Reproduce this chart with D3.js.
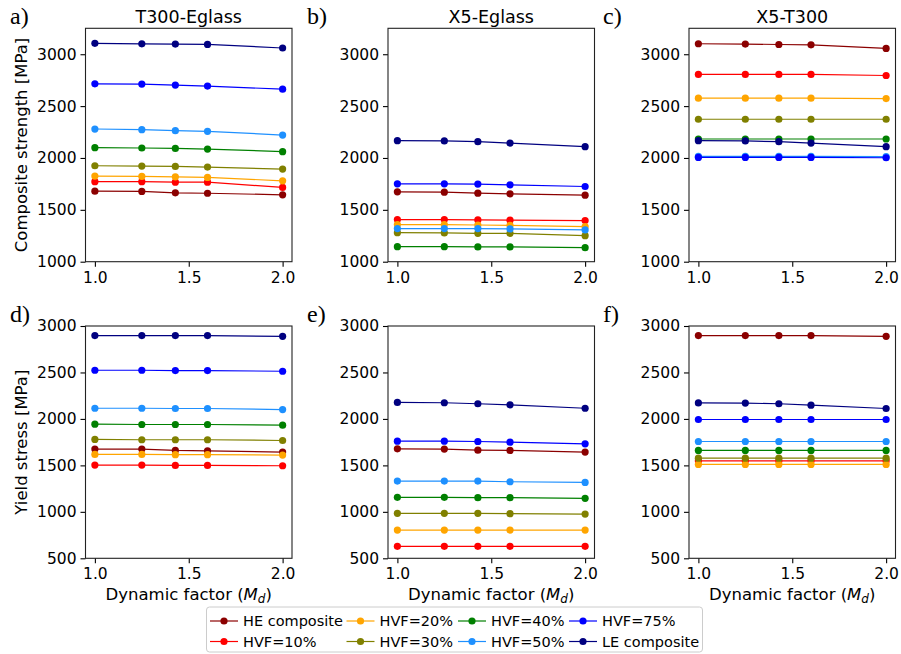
<!DOCTYPE html>
<html>
<head>
<meta charset="utf-8">
<script src="https://cdn.jsdelivr.net/npm/d3@7"></script>
<style>
  body { margin: 0; background: #fff; }
  text { font-family: "DejaVu Sans", sans-serif; }
</style>
</head>
<body>
<script>
// dynamic factor values (x)
const md = [1.0, 1.25, 1.4286, 1.6, 2.0];
const xTicks = [1.0, 1.5, 2.0];

const seriesNames = ["HE composite", "HVF=10%", "HVF=20%", "HVF=30%", "HVF=40%", "HVF=50%", "HVF=75%", "LE composite"];
const seriesColors = ["#8b0000", "#ff0000", "#ffa500", "#808000", "#008000", "#1e90ff", "#0000ff", "#000080"];

// composite strength [MPa], one row per series (same order as seriesNames)
const strengthT300Eglass = [
  [1680, 1677, 1664, 1660, 1645],
  [1771, 1771, 1767, 1767, 1716],
  [1825, 1822, 1818, 1812, 1780],
  [1925, 1922, 1918, 1912, 1893],
  [2099, 2096, 2092, 2086, 2061],
  [2279, 2273, 2263, 2257, 2221],
  [2715, 2712, 2703, 2693, 2663],
  [3105, 3100, 3098, 3095, 3060]
];
const strengthX5Eglass = [
  [1674, 1670, 1661, 1654, 1641],
  [1406, 1406, 1403, 1400, 1396],
  [1358, 1358, 1354, 1351, 1338],
  [1280, 1277, 1274, 1274, 1251],
  [1145, 1145, 1142, 1142, 1135],
  [1319, 1319, 1319, 1316, 1306],
  [1751, 1751, 1748, 1741, 1725],
  [2167, 2164, 2157, 2144, 2109]
];
const strengthX5T300 = [
  [3101, 3098, 3094, 3091, 3056],
  [2805, 2805, 2805, 2805, 2795],
  [2576, 2576, 2576, 2576, 2573],
  [2373, 2373, 2373, 2373, 2373],
  [2183, 2183, 2183, 2183, 2183],
  [2015, 2015, 2015, 2015, 2012],
  [2005, 2005, 2005, 2005, 2002],
  [2167, 2164, 2157, 2144, 2109]
];
// yield stress [MPa]
const yieldT300Eglass = [
  [1675, 1675, 1661, 1657, 1643],
  [1503, 1503, 1500, 1500, 1496],
  [1618, 1618, 1615, 1615, 1611],
  [1779, 1776, 1776, 1776, 1768],
  [1943, 1940, 1940, 1940, 1933],
  [2115, 2115, 2112, 2112, 2101],
  [2524, 2524, 2520, 2520, 2513],
  [2897, 2897, 2897, 2897, 2889]
];
const yieldX5Eglass = [
  [1678, 1675, 1664, 1661, 1643],
  [629, 629, 629, 629, 629],
  [804, 804, 804, 804, 804],
  [984, 984, 984, 980, 976],
  [1156, 1156, 1152, 1152, 1145],
  [1331, 1331, 1331, 1324, 1317],
  [1761, 1761, 1757, 1750, 1732],
  [2177, 2174, 2163, 2152, 2115]
];
const yieldX5T300 = [
  [2897, 2897, 2897, 2897, 2889],
  [1549, 1549, 1549, 1549, 1549],
  [1510, 1510, 1510, 1510, 1510],
  [1578, 1578, 1578, 1578, 1578],
  [1661, 1661, 1661, 1661, 1661],
  [1757, 1757, 1757, 1757, 1757],
  [1994, 1994, 1994, 1994, 1994],
  [2172, 2170, 2163, 2148, 2112]
];

const titles = ["T300-Eglass", "X5-Eglass", "X5-T300"];
const letters = [["a)", "b)", "c)"], ["d)", "e)", "f)"]];
const strengthTicks = [1000, 1500, 2000, 2500, 3000];
const yieldTicks = [500, 1000, 1500, 2000, 2500, 3000];

const svg = d3.select("body").append("svg")
  .attr("width", 901)
  .attr("height", 654);

// layout
const colX = [[85.5, 292], [388, 594.5], [689, 895.5]];
const rowY = [[28.3, 261.7], [326, 558.3]];
const letterX = [10, 307, 603];

const rows = [
  { data: [strengthT300Eglass, strengthX5Eglass, strengthX5T300], domain: [1000, 3250], ticks: strengthTicks, label: "Composite strength [MPa]" },
  { data: [yieldT300Eglass, yieldX5Eglass, yieldX5T300], domain: [500, 3000], ticks: yieldTicks, label: "Yield stress [MPa]" }
];

rows.forEach((row, r) => {
  const y = d3.scaleLinear().domain(row.domain).range([rowY[r][1], rowY[r][0]]);

  svg.append("text")
    .attr("transform", `translate(27, ${(rowY[r][0] + rowY[r][1]) / 2}) rotate(-90)`)
    .attr("text-anchor", "middle")
    .style("font-size", "16.5px")
    .text(row.label);

  row.data.forEach((panel, c) => {
    const x = d3.scaleLinear().domain([0.95, 2.05]).range(colX[c]);
    const g = svg.append("g");

    // axes
    const yAxis = g.append("g")
      .attr("transform", `translate(${colX[c][0]},0)`)
      .call(d3.axisLeft(y).tickValues(row.ticks).tickSize(5).tickPadding(4).tickFormat(d3.format("d")));
    const xAxis = g.append("g")
      .attr("transform", `translate(0,${rowY[r][1]})`)
      .call(d3.axisBottom(x).tickValues(xTicks).tickSize(5).tickPadding(5).tickFormat(d3.format(".1f")));
    [yAxis, xAxis].forEach(a => {
      a.select(".domain").remove();
      a.selectAll("text").style("font-size", "15.5px").style("font-family", "DejaVu Sans").attr("fill", "#000");
      a.selectAll("line").attr("stroke", "#000").attr("stroke-width", 1.1);
    });

    // series
    panel.forEach((vals, s) => {
      const pts = vals.map((v, i) => [md[i], v]);
      g.append("path")
        .datum(pts)
        .attr("fill", "none")
        .attr("stroke", seriesColors[s])
        .attr("stroke-width", 1.2)
        .attr("d", d3.line().x(d => x(d[0])).y(d => y(d[1])));
      g.selectAll(null)
        .data(pts)
        .join("circle")
        .attr("cx", d => x(d[0]))
        .attr("cy", d => y(d[1]))
        .attr("r", 3.6)
        .attr("fill", seriesColors[s]);
    });

    // frame
    g.append("rect")
      .attr("x", colX[c][0])
      .attr("y", rowY[r][0])
      .attr("width", colX[c][1] - colX[c][0])
      .attr("height", rowY[r][1] - rowY[r][0])
      .attr("fill", "none")
      .attr("stroke", "#222")
      .attr("stroke-width", 1.1);

    // panel letter
    svg.append("text")
      .attr("x", letterX[c])
      .attr("y", rowY[r][0] - 4)
      .style("font-family", "Liberation Serif, serif")
      .style("font-size", "24px")
      .text(letters[r][c]);

    const cx = (colX[c][0] + colX[c][1]) / 2;
    if (r === 0) {
      svg.append("text")
        .attr("x", cx)
        .attr("y", 23)
        .attr("text-anchor", "middle")
        .style("font-size", "17.5px")
        .text(titles[c]);
    } else {
      const t = svg.append("text")
        .attr("x", cx)
        .attr("y", 600)
        .attr("text-anchor", "middle")
        .style("font-size", "16.5px");
      t.append("tspan").text("Dynamic factor (");
      t.append("tspan").style("font-style", "italic").text("M");
      t.append("tspan").style("font-style", "italic").style("font-size", "12px").attr("dy", 3).text("d");
      t.append("tspan").attr("dy", -3).text(")");
    }
  });
});

// legend
const legend = svg.append("g");
legend.append("rect")
  .attr("x", 206.5)
  .attr("y", 607)
  .attr("width", 496)
  .attr("height", 45)
  .attr("rx", 3)
  .attr("fill", "#fff")
  .attr("stroke", "#ccc")
  .attr("stroke-width", 1);

const legCols = [210, 346.5, 458, 569];
const legRows = [621, 641.5];
seriesNames.forEach((name, i) => {
  const lx = legCols[Math.floor(i / 2)];
  const ly = legRows[i % 2];
  legend.append("line")
    .attr("x1", lx).attr("x2", lx + 28)
    .attr("y1", ly).attr("y2", ly)
    .attr("stroke", seriesColors[i])
    .attr("stroke-width", 1.2);
  legend.append("circle")
    .attr("cx", lx + 14).attr("cy", ly)
    .attr("r", 3.6)
    .attr("fill", seriesColors[i]);
  legend.append("text")
    .attr("x", lx + 33)
    .attr("y", ly + 5)
    .style("font-size", "14.5px")
    .text(name);
});
</script>
</body>
</html>
